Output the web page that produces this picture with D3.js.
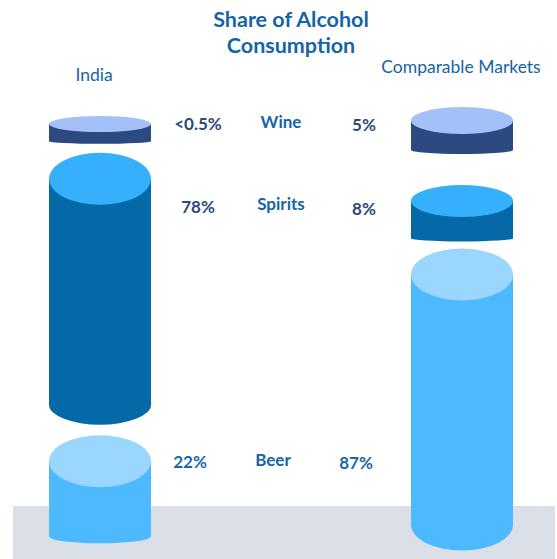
<!DOCTYPE html>
<html>
<head>
<meta charset="utf-8">
<script src="https://cdn.jsdelivr.net/npm/d3@7/dist/d3.min.js"></script>
<style>
  html, body { margin: 0; padding: 0; background: #ffffff; }
  svg { display: block; }
  text { font-family: Lato, "Open Sans", sans-serif; }
</style>
</head>
<body>
<svg id="chart" width="557" height="559"></svg>
<script>
// ---- data ----
const categories = ["Wine", "Spirits", "Beer"];
const markets = ["India", "Comparable Markets"];
const indiaShare = [0.5, 78, 22];
const comparableShare = [5, 8, 87];
const indiaLabels = ["<0.5%", "78%", "22%"];
const comparableLabels = ["5%", "8%", "87%"];
const titleLines = ["Share of Alcohol", "Consumption"];

// ---- styling per category ----
const topColor = { Wine: "#a3c1f8", Spirits: "#36b0fb", Beer: "#9bd6fe" };
const bodyColor = { Wine: "#2c4a80", Spirits: "#0568a7", Beer: "#4dbaff" };
const pctColor = { Wine: "#2c4a7e", Spirits: "#2c4a7e", Beer: "#1a67a6" };
const blue = "#1565a5";

const svg = d3.select("#chart");
const W = 557, H = 559;

// body length of each cylinder follows its share
const heightScale = d3.scaleLinear().domain([0, 100]).range([16, 285]);

// column geometry: x position, first top edge, gaps between cylinders,
// ellipse radii for the top face and bottom curve of each category
const columns = [
  { name: markets[0], values: indiaShare, labels: indiaLabels,
    cx: 100, rx: 51, top: 116, gaps: [9, 10.5],
    topRy: { Wine: 8, Spirits: 26, Beer: 26 },
    botRy: { Wine: 2.5, Spirits: 20, Beer: 7 } },
  { name: markets[1], values: comparableShare, labels: comparableLabels,
    cx: 462, rx: 51, top: 107, gaps: [31, 7],
    topRy: { Wine: 13.5, Spirits: 16, Beer: 26 },
    botRy: { Wine: 4, Spirits: 3, Beer: 26 } }
];

// grey floor band
svg.append("rect")
  .attr("x", 13).attr("y", 506)
  .attr("width", 542).attr("height", H - 506)
  .attr("fill", "#dbdfe7");

// stack the cylinders of each column from the top down
columns.forEach(col => {
  let y = col.top;
  const cyl = categories.map((cat, i) => {
    const ryT = col.topRy[cat], ryB = col.botRy[cat];
    const cyTop = y + ryT;
    const cyBot = cyTop + heightScale(col.values[i]);
    y = cyBot + ryB + (col.gaps[i] || 0);
    return { cat, cyTop, cyBot, ryT, ryB };
  });

  const g = svg.append("g").attr("class", "column");
  const items = g.selectAll("g.cyl").data(cyl).join("g").attr("class", "cyl");

  items.append("path")
    .attr("fill", d => bodyColor[d.cat])
    .attr("d", d => {
      const l = col.cx - col.rx, r = col.cx + col.rx;
      return `M${l},${d.cyTop}L${l},${d.cyBot}` +
             `A${col.rx},${d.ryB} 0 0 0 ${r},${d.cyBot}` +
             `L${r},${d.cyTop}Z`;
    });

  items.append("ellipse")
    .attr("cx", col.cx).attr("cy", d => d.cyTop)
    .attr("rx", col.rx).attr("ry", d => d.ryT)
    .attr("fill", d => topColor[d.cat]);
});

// title
svg.append("text")
  .attr("x", 291).attr("y", 27)
  .attr("text-anchor", "middle")
  .attr("font-weight", 700).attr("font-size", 21.5)
  .attr("fill", blue)
  .selectAll("tspan").data(titleLines).join("tspan")
  .attr("x", 291).attr("dy", (d, i) => i ? 25.5 : 0)
  .text(d => d);

// column headings
svg.append("text").attr("x", 94).attr("y", 81)
  .attr("text-anchor", "middle").attr("font-size", 17.5).attr("fill", blue)
  .text(markets[0]);
svg.append("text").attr("x", 461).attr("y", 73)
  .attr("text-anchor", "middle").attr("font-size", 17.5).attr("fill", blue)
  .text(markets[1]);

// row labels: category name in the middle, shares either side
const rowY = [130, 212, 468];
const rowShift = [0, 0, -8];
const rows = svg.append("g").selectAll("g").data(categories).join("g")
  .attr("transform", (d, i) => `translate(${rowShift[i]},${rowY[i]})`)
  .attr("font-weight", 700).attr("font-size", 17).attr("text-anchor", "middle");

rows.append("text").attr("x", 281).attr("y", -2)
  .attr("fill", blue).text(d => d);
rows.append("text").attr("x", 198).attr("y", (d, i) => i === 1 ? 1 : 0)
  .attr("fill", d => pctColor[d]).text((d, i) => indiaLabels[i]);
rows.append("text").attr("x", 364).attr("y", (d, i) => i === 1 ? 3 : 1)
  .attr("fill", d => pctColor[d]).text((d, i) => comparableLabels[i]);
</script>
</body>
</html>
